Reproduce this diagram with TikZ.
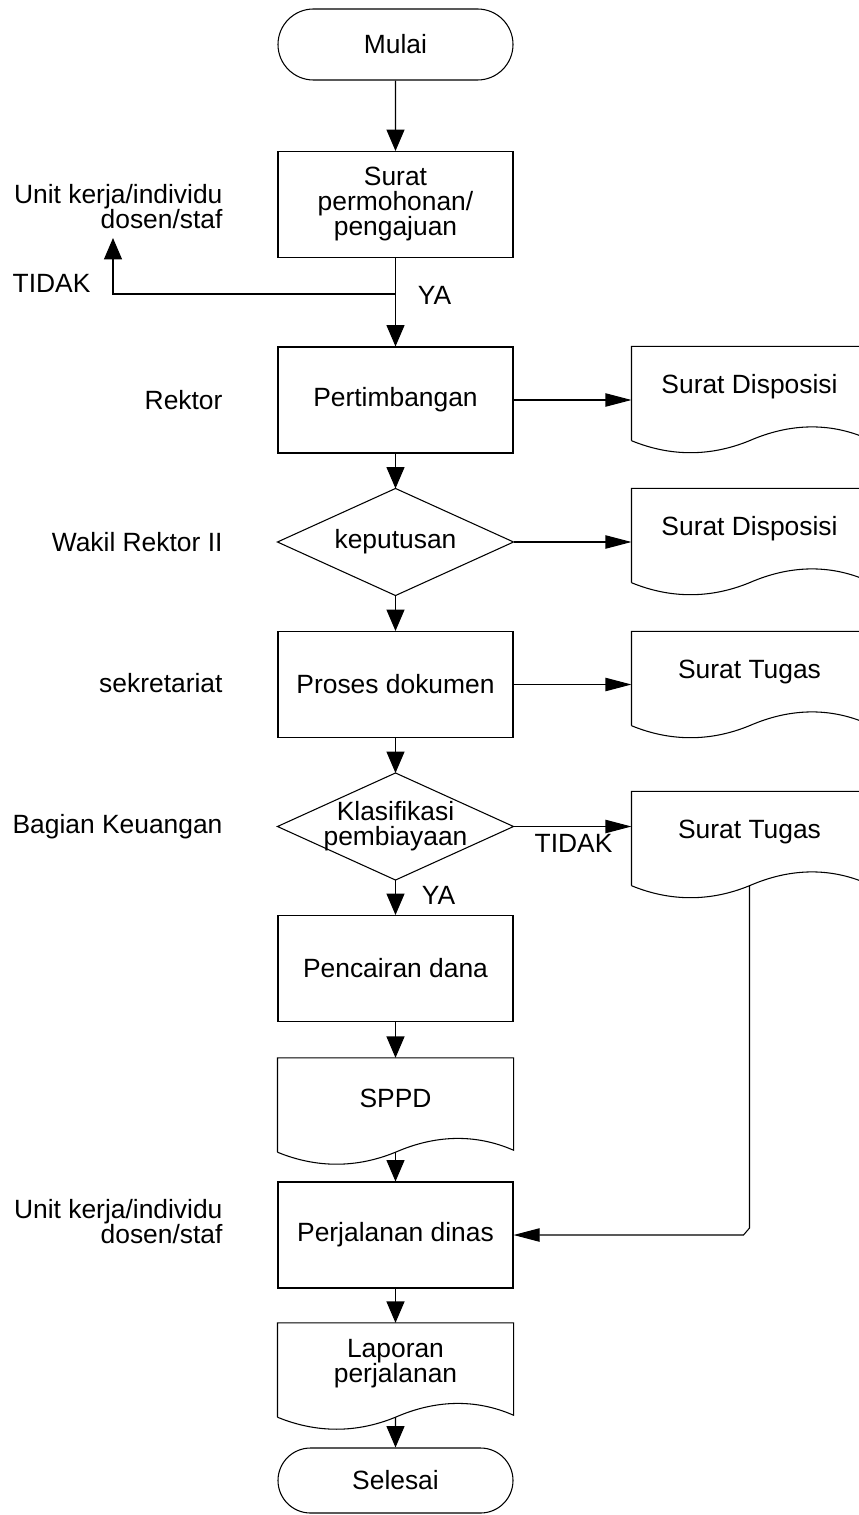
\documentclass[tikz,border=0pt]{standalone}
\usepackage{fontspec}
\setmainfont{Liberation Sans}
\usetikzlibrary{arrows.meta,calc,shapes.misc}
\newcommand{\flowfont}{\fontsize{19.8pt}{18.75pt}\selectfont}
% outline of a document symbol: straight top and sides, wavy bottom edge
\newcommand{\docoutline}[1]{%
  \draw (#1.south west) -- (#1.north west) -- (#1.north east) -- ($(#1.south east)+(0,-2)$)
    .. controls +(-39,-17) and +(39,-17) .. (#1.south)
    .. controls +(-39,16) and +(39,16) .. (#1.south west);}
\begin{document}
\begin{tikzpicture}[x=0.75pt,y=-0.75pt,
  line width=0.8pt, draw=black,
  every node/.style={font=\flowfont, inner sep=0pt},
  terminal/.style={rounded rectangle, draw=black, minimum width=176.25pt},
  process/.style={rectangle, draw=black, minimum width=176.25pt, minimum height=79.5pt, align=center},
  decision/.style={rectangle, minimum width=176.25pt, minimum height=79.5pt, align=center},
  docshape/.style={rectangle, minimum width=176.25pt, minimum height=70pt},
  doctext/.style={yshift=5pt, align=center},
  role/.style={anchor=east, align=right},
  varrow/.style={-{Triangle[length=16pt,width=13.5pt]}},
  harrow/.style={-{Triangle[length=19.5pt,width=10pt]}},
]
\useasboundingbox (0,0) rectangle (859,1515);

% main column
\node[terminal, minimum height=53.25pt] (mulai) at (395.5,44.5) {Mulai};
\node[process] (perm) at (395.5,204.5) {Surat\\permohonan/\\pengajuan};
\node[process] (pert) at (395.5,400) {Pertimbangan};
\node[decision] (kep) at (395.5,542) {keputusan};
\node[process] (proses) at (395.5,684.5) {Proses dokumen};
\node[decision] (klas) at (395.5,826.5) {Klasifikasi\\pembiayaan};
\node[process] (cair) at (395.5,968.5) {Pencairan dana};
\node[docshape, label={[doctext]center:SPPD}] (sppd) at (395.5,1105) {};
\node[process] (jalan) at (395.5,1235) {Perjalanan dinas};
\node[docshape, label={[doctext]center:{Laporan\\perjalanan}}] (lapor) at (395.5,1370) {};
\node[terminal, minimum height=48.75pt] (selesai) at (395.5,1480.5) {Selesai};

\draw (kep.north) -- (kep.east) -- (kep.south) -- (kep.west) -- cycle;
\draw (klas.north) -- (klas.east) -- (klas.south) -- (klas.west) -- cycle;
\docoutline{sppd}
\docoutline{lapor}

% output documents
\node[docshape, label={[doctext]center:Surat Disposisi}] (d1) at (749.5,393.5) {};
\node[docshape, label={[doctext]center:Surat Disposisi}] (d2) at (749.5,535.5) {};
\node[docshape, label={[doctext]center:Surat Tugas}] (d3) at (749.5,678.5) {};
\node[docshape, label={[doctext]center:Surat Tugas}] (d4) at (749.5,838.5) {};
\docoutline{d1}
\docoutline{d2}
\docoutline{d3}
\docoutline{d4}

% responsible parties
\node[role] (r1) at (223,206.5) {Unit kerja/individu\\dosen/staf};
\node[role] (r2) at (223,400) {Rektor};
\node[role] (r3) at (223,542) {Wakil Rektor II};
\node[role] (r4) at (223,683) {sekretariat};
\node[role] (r5) at (223,827) {Bagian Keuangan};
\node[role] (r6) at (223,1221.5) {Unit kerja/individu\\dosen/staf};

% branch labels
\node (tidak1) at (51.5,283) {TIDAK};
\node (ya1) at (434.5,295) {YA};
\node (tidak2) at (573.5,843) {TIDAK};
\node (ya2) at (438.5,895) {YA};

% connectors
\coordinate (split) at ($(perm.south)+(0,36)$);
\coordinate (balik) at (113,238);
\draw[varrow] (mulai) -- (perm);
\draw[varrow] (perm) -- (pert);
\draw[varrow] (split) -| (balik);
\draw[harrow] (pert.east) -- (pert.east -| d1.west);
\draw[varrow] (pert) -- (kep.north);
\draw[harrow] (kep.east) -- (kep.east -| d2.west);
\draw[varrow] (kep.south) -- (proses);
\draw[harrow] (proses.east) -- (proses.east -| d3.west);
\draw[varrow] (proses) -- (klas.north);
\draw[harrow] (klas.east) -- (klas.east -| d4.west);
\draw[varrow] (klas.south) -- (cair);
\draw[varrow] (cair) -- (sppd);
\draw[varrow] (sppd.south) -- (jalan);
\draw[harrow] (d4.south) -- ($(d4.south |- jalan.east)+(0,-7)$)
  -- ($(d4.south |- jalan.east)+(-6,0)$) -- (jalan.east);
\draw[varrow] (jalan) -- (lapor.north);
\draw[varrow] (lapor.south) -- (selesai);
\end{tikzpicture}
\end{document}
